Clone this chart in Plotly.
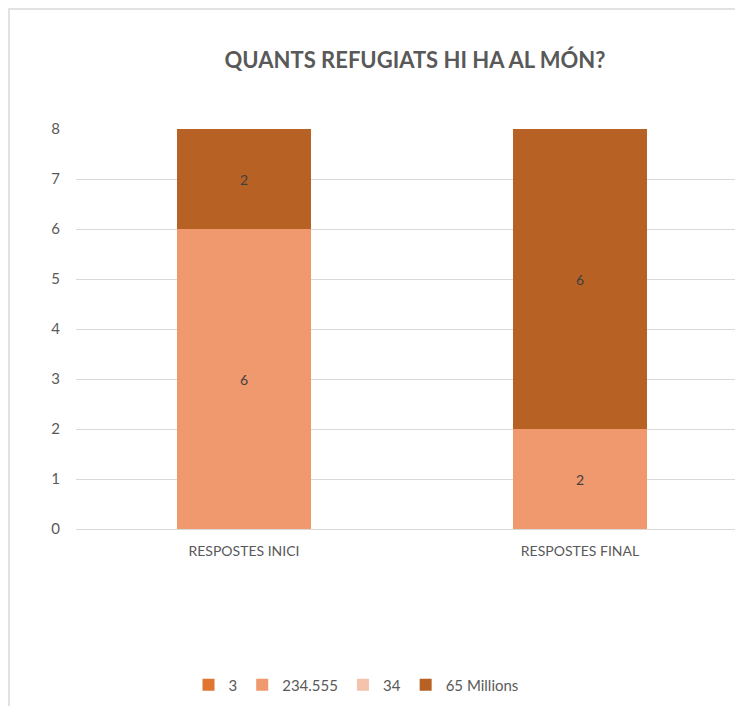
import plotly.graph_objects as go

categories = ["RESPOSTES INICI", "RESPOSTES FINAL"]
series_names = ["3", "234.555", "34", "65 Millions"]
values_3 = [0, 0]
values_234 = [6, 2]
values_34 = [0, 0]
values_65m = [2, 6]
y_ticks = [0, 1, 2, 3, 4, 5, 6, 7, 8]

colors = ["#E07632", "#F0986E", "#F5C3AC", "#B86125"]
all_values = [values_3, values_234, values_34, values_65m]

FONT = "Lato, Open Sans, sans-serif"

fig = go.Figure()
for name, vals, col in zip(series_names, all_values, colors):
    fig.add_trace(go.Bar(
        x=categories, y=vals, name=name,
        marker=dict(color=col, line=dict(width=0)),
        text=[str(v) if v else "" for v in vals],
        textposition="inside", insidetextanchor="middle",
        textfont=dict(size=14, color="#404040", family=FONT),
        width=0.4,
    ))

L, R, T, B = 76, 0, 129, 177
W, H = 735, 706
pw = W - L - R
ph = H - T - B

def px_x(px):
    return (px - L) / pw

def px_y(py):
    return (H - B - py) / ph

fig.update_layout(
    barmode="stack",
    width=W, height=H,
    margin=dict(l=L, r=R, t=T, b=B, pad=0),
    paper_bgcolor="white", plot_bgcolor="white",
    font=dict(family=FONT, color="#595959"),
    title=dict(text="<b>QUANTS REFUGIATS HI HA AL MÓN?</b>",
               x=px_x(415), xref="paper", xanchor="center",
               y=1 - 60 / H, yref="container", yanchor="middle",
               font=dict(size=22, color="#595959", family=FONT)),
    xaxis=dict(range=[-0.5, 1.5 - 13 / 336], showgrid=False, showline=False,
               ticks="", tickfont=dict(size=14, color="#595959"),
               ticklabelstandoff=12, fixedrange=True),
    yaxis=dict(range=[0, 8], tickvals=y_ticks, showgrid=True,
               gridcolor="#D9D9D9", gridwidth=1, zeroline=True,
               zerolinecolor="#D9D9D9", zerolinewidth=1,
               tickfont=dict(size=15, color="#595959"),
               ticklabelstandoff=15, ticks="", fixedrange=True),
    legend=dict(orientation="h", x=px_x(356), xanchor="center",
                y=px_y(685), yanchor="middle",
                font=dict(size=15, color="#595959"),
                itemwidth=30, traceorder="normal"),
    showlegend=True,
)

fig.add_shape(type="path", xref="paper", yref="paper",
              path=f"M {px_x(9)} {px_y(720)} L {px_x(9)} {px_y(9)} L {px_x(735)} {px_y(9)}",
              line=dict(color="#D9D9D9", width=1.5))

fig.write_html("out.html", config={"displayModeBar": False},
               post_script="document.body.style.margin='0';document.body.style.overflow='hidden';document.documentElement.style.overflow='hidden';")
